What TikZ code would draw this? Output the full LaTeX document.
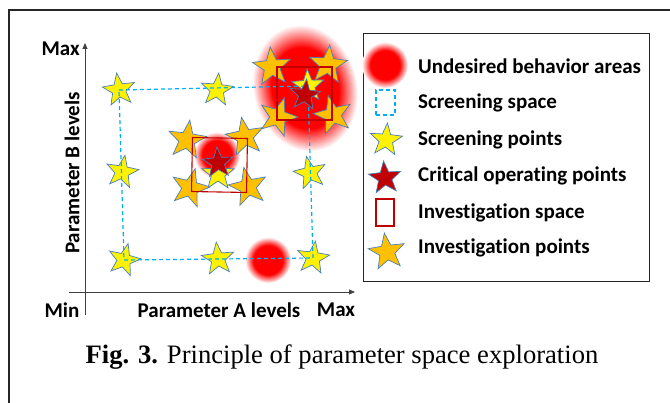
\documentclass[tikz,border=0pt]{standalone}
\usepackage{fontspec}
\setmainfont{Liberation Serif}
\newfontfamily\labelfont[Ligatures=NoCommon]{Carlito}
\usetikzlibrary{arrows.meta,shapes.geometric}

\definecolor{scrblue}{HTML}{00B0F0}
\definecolor{outlineblue}{HTML}{4A7EBB}
\definecolor{invorange}{HTML}{FFC000}
\definecolor{critred}{HTML}{C00000}

\pgfdeclareradialshading{blurblob}{\pgfpoint{0bp}{0bp}}{color(0bp)=(red); color(16bp)=(red); color(25bp)=(white); color(50bp)=(white)}

\tikzset{
  star base/.style={star, star points=5, star point ratio=2.4, inner sep=0pt, draw=outlineblue, line width=0.7pt},
  scrpt/.style={star base, fill=yellow, minimum size=34pt},
  invpt/.style={star base, fill=invorange, minimum size=40pt},
  critpt/.style={star base, fill=critred, minimum size=32pt},
  scrspace/.style={draw=scrblue, line width=1.2pt, dash pattern=on 4pt off 3pt},
  invspace/.style={draw=critred, line width=1.1pt, inner sep=0pt},
  axis/.style={draw=black!75, line width=0.8pt, -{Triangle[length=6pt,width=5pt]}},
  lbl/.style={font=\labelfont\bfseries\fontsize{21}{25}\selectfont, inner sep=0pt},
}

\begin{document}
\begin{tikzpicture}[x=1pt, y=-1pt]
	\useasboundingbox (0,0) rectangle (670,403);
	\draw[line width=1.5pt, black!85] (9,403) -- (9,10) -- (670,10);
	% undesired behavior areas
	\shade[shading=blurblob] (217,155) circle (23pt);
	\shade[shading=blurblob] (268,260) circle (23pt);
	\shade[shading=blurblob, transform canvas={rotate around={14:(305,88)}}] (305,88) ellipse (52pt and 64pt);
	% screening points and space
	\node[scrpt, rotate=8] (s11) at (119,90) {};
	\node[scrpt, rotate=-6] (s12) at (217,90) {};
	\node[scrpt, rotate=3] (s13) at (308,86) {};
	\node[scrpt, rotate=-10] (s21) at (122,172) {};
	\node[scrpt] (s22) at (218,174) {};
	\node[scrpt, rotate=12] (s23) at (310,173) {};
	\node[scrpt, rotate=-14] (s31) at (124,260) {};
	\node[scrpt, rotate=6] (s32) at (218,259) {};
	\node[scrpt, rotate=-8] (s33) at (313,258) {};
	\draw[scrspace] (s11.center) -- (s13.center) -- (s33.center) -- (s31.center) -- cycle;
	% investigation points and spaces
	\node[invpt, rotate=-8] (i11) at (187,140) {};
	\node[invpt, rotate=10] (i12) at (245,137) {};
	\node[invpt, rotate=-15] (i13) at (190,188) {};
	\node[invpt, rotate=12] (i14) at (248,187) {};
	\node[invpt, rotate=5] (i21) at (272,67) {};
	\node[invpt, rotate=-5] (i22) at (328,65) {};
	\node[invpt, rotate=-18] (i23) at (278,117) {};
	\node[invpt, rotate=14] (i24) at (333,115) {};
	\node[invspace, minimum width=55pt, minimum height=54pt, rotate=-1] (inv1) at (219.5,165) {};
	\node[invspace, minimum width=55pt, minimum height=53pt] (inv2) at (304.5,93.5) {};
	% critical operating points
	\node[critpt, rotate=4] (c1) at (218,163) {};
	\node[critpt, rotate=-6] (c2) at (305,95) {};
	% axes
	\coordinate (ybot) at (85,315); \coordinate (ytop) at (85,43);
	\coordinate (xleft) at (69,292); \coordinate (xright) at (355,292);
	\draw[axis] (ybot) -- (ytop);
	\draw[axis] (xleft) -- (xright);
	\node[lbl, anchor=east] (ymax) at (80,49) {Max};
	\node[lbl] (xmin) at (62,310) {Min};
	\node[lbl] (xname) at (219,310) {Parameter A levels};
	\node[lbl] (xmax) at (336,310) {Max};
	\node[lbl, rotate=90] (yname) at (72,173) {Parameter B levels};
	% legend
	\node[draw=black!85, line width=1pt, minimum width=286pt, minimum height=248pt] (legend) at (506,158) {};
	\shade[shading=blurblob] (385,65) circle (23pt);
	\node[lbl, anchor=west] (l1) at (418,66) {Undesired behavior areas};
	\node[scrspace, minimum width=19pt, minimum height=25pt, inner sep=0pt] (k2) at (385.5,102.5) {};
	\node[lbl, anchor=west] (l2) at (418,103) {Screening space};
	\node[scrpt, rotate=-5] (k3) at (386,140) {};
	\node[lbl, anchor=west] (l3) at (418,140) {Screening points};
	\node[critpt, minimum size=34pt, rotate=5] (k4) at (385,178) {};
	\node[lbl, anchor=west] (l4) at (418,176) {Critical operating points};
	\node[invspace, line width=1.4pt, minimum width=18pt, minimum height=27pt] (k5) at (385,212.5) {};
	\node[lbl, anchor=west] (l5) at (418,213) {Investigation space};
	\node[invpt, minimum size=38pt, rotate=8] (k6) at (387,252) {};
	\node[lbl, anchor=west] (l6) at (418,248) {Investigation points};
	% caption
	\node[font=\fontsize{26.6}{30}\selectfont, inner sep=0pt] (caption) at (342,357) {\textbf{Fig. 3.} Principle of parameter space exploration};
\end{tikzpicture}
\end{document}
